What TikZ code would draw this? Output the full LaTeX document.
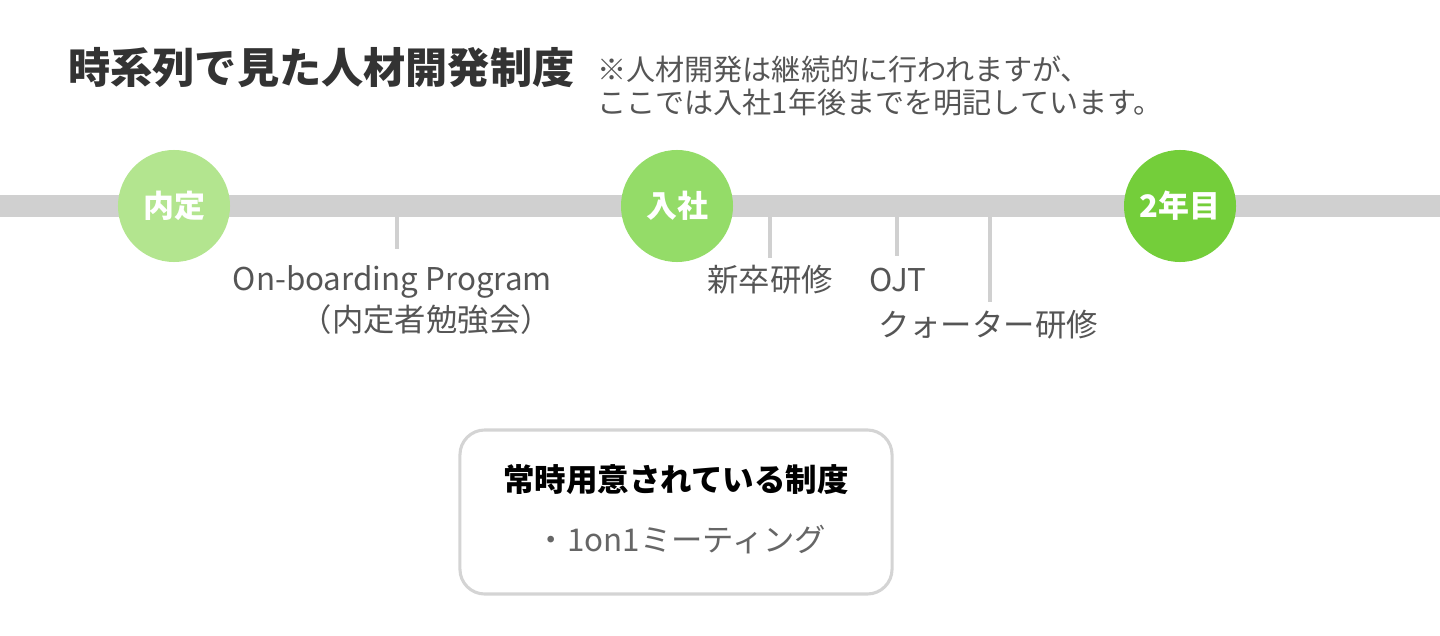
\documentclass[tikz,border=0pt]{standalone}
\usepackage{fontspec}
\setmainfont{Noto Sans CJK JP}
\usetikzlibrary{positioning}
\definecolor{bargray}{HTML}{D0D0D0}
\definecolor{greenlight}{HTML}{B3E58F}
\definecolor{greenmid}{HTML}{94DC68}
\definecolor{greendeep}{HTML}{74CE3A}
\definecolor{ink}{HTML}{333333}
\definecolor{muted}{HTML}{555555}
\definecolor{boxline}{HTML}{D4D4D4}
\tikzset{
  mile/.style={circle,minimum size=2.8cm,inner sep=0pt,text=white,font=\fontsize{22}{26}\selectfont\bfseries},
  tick/.style={draw=bargray,line width=2.8pt},
  event/.style={inner sep=0pt,text=muted,font=\fontsize{22.3}{28.5}\selectfont},
  notetext/.style={inner sep=0pt,text=muted,align=left,font=\fontsize{20.7}{24}\selectfont},
  panel/.style={rectangle,rounded corners=0.62cm,draw=boxline,line width=2.2pt,fill=white,minimum width=10.8cm,minimum height=4.1cm}
}

\begin{document}
\begin{tikzpicture}[x=0.025cm,y=-0.025cm]
  \useasboundingbox (0,0) rectangle (1440,636);
  % title and note
  \node[anchor=west,inner sep=0pt,text=ink,font=\fontsize{30}{34}\selectfont\bfseries] (title) at (68,68) {時系列で見た人材開発制度};
  \node[notetext,anchor=west] (note) at (597,86) {※人材開発は継続的に行われますが、\\ここでは入社1年後までを明記しています。};
  % timeline
  \coordinate (left) at (0,206);
  \coordinate (right) at (1440,206);
  \draw[bargray,line width=0.55cm] (left) -- (right);
  \node[mile,fill=greenlight] (naitei) at (174,206) {内定};
  \node[mile,fill=greenmid] (nyusha) at (677,206) {入社};
  \node[mile,fill=greendeep] (ninen) at (1180,206) {2年目};
  % ticks and labels
  \coordinate (t1) at (397,215); \coordinate (t1e) at (397,249);
  \coordinate (t2) at (770,215); \coordinate (t2e) at (770,258);
  \coordinate (t3) at (897,215); \coordinate (t3e) at (897,256);
  \coordinate (t4) at (990,215); \coordinate (t4e) at (990,302);
  \draw[tick] (t1) -- (t1e);
  \draw[tick] (t2) -- (t2e);
  \draw[tick] (t3) -- (t3e);
  \draw[tick] (t4) -- (t4e);
  \node[event,anchor=east,align=right] (onboard) at (552,300) {On-boarding Program\\（内定者勉強会）};
  \node[event] (shinsotsu) at (770,280) {新卒研修};
  \node[event] (ojt) at (898,280) {OJT};
  \node[event] (quarter) at (988,325) {クォーター研修};
  % always-available box
  \node[panel] (always) at (676,512) {};
  \node[inner sep=0pt,text=black,font=\fontsize{22.4}{26}\selectfont\bfseries] (alwaystitle) at (676,480) {常時用意されている制度};
  \node[event,text=muted!90] (oneonone) at (681,540) {・1on1ミーティング};
\end{tikzpicture}
\end{document}
